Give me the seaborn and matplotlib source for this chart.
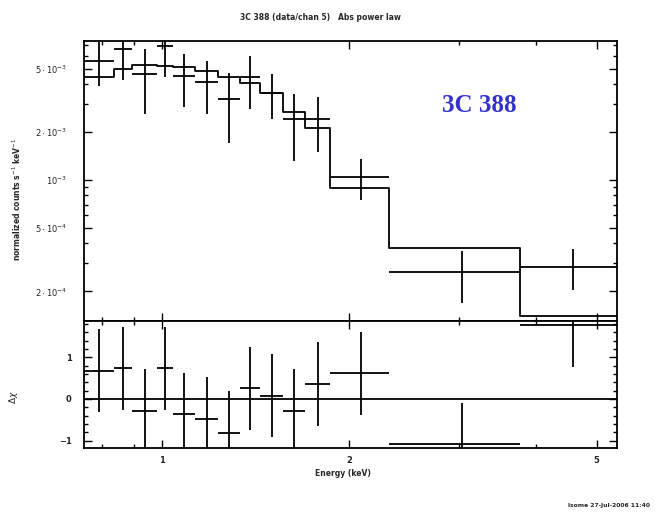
import numpy as np
import pandas as pd
import matplotlib
matplotlib.use("Agg")
import matplotlib.pyplot as plt
import seaborn as sns
from matplotlib.ticker import FixedLocator, FixedFormatter, MultipleLocator, NullFormatter

# Spectral channel bins (keV)
e_lo = [0.749, 0.837, 0.895, 0.983, 1.040, 1.130, 1.230, 1.335, 1.437, 1.563, 1.698, 1.863, 2.313, 3.764]
e_hi = [0.837, 0.895, 0.983, 1.040, 1.130, 1.230, 1.335, 1.437, 1.563, 1.698, 1.863, 2.313, 3.764, 5.39]

# Normalized counts s^-1 keV^-1 with 1-sigma errors
rate = [5.60e-3, 6.63e-3, 4.62e-3, 6.95e-3, 4.51e-3, 4.10e-3, 3.21e-3, 4.40e-3,
        3.50e-3, 2.40e-3, 2.40e-3, 1.049e-3, 2.64e-4, 2.86e-4]
rate_err = [1.72e-3, 2.39e-3, 2.03e-3, 2.51e-3, 1.63e-3, 1.51e-3, 1.50e-3, 1.63e-3,
            1.10e-3, 1.08e-3, 0.90e-3, 0.30e-3, 0.945e-4, 0.83e-4]

# Folded absorbed power-law model per channel
model = [4.40e-3, 4.94e-3, 5.23e-3, 5.18e-3, 5.09e-3, 4.82e-3, 4.40e-3, 4.04e-3,
         3.50e-3, 2.68e-3, 2.13e-3, 0.887e-3, 3.73e-4, 1.41e-4]

# Residuals in units of sigma
delchi = [0.68, 0.74, -0.28, 0.74, -0.37, -0.48, -0.81, 0.26, 0.08, -0.28, 0.36, 0.62, -1.09, 1.78]
delchi_err = [1.0] * len(delchi)

y_ticks = [2e-4, 5e-4, 1e-3, 2e-3, 5e-3]
y_ticklabels = [r"$2\cdot10^{-4}$", r"$5\cdot10^{-4}$", r"$10^{-3}$", r"$2\cdot10^{-3}$", r"$5\cdot10^{-3}$"]
x_ticks = [1, 2, 5]
x_ticklabels = ["1", "2", "5"]

sns.set_theme(style="ticks")
plt.rcParams["font.family"] = ["DejaVu Sans"]
plt.rcParams["mathtext.fontset"] = "dejavusans"

df = pd.DataFrame({"lo": e_lo, "hi": e_hi, "rate": rate, "err": rate_err,
                   "model": model, "delchi": delchi, "derr": delchi_err})
df["mid"] = (df["lo"] + df["hi"]) / 2

step = pd.DataFrame({"e": list(df["lo"]) + [df["hi"].iloc[-1]],
                     "m": list(df["model"]) + [df["model"].iloc[-1]]})

fig = plt.figure(figsize=(6.55, 5.15), dpi=100)
fig.patch.set_facecolor("white")
L, W = 84 / 655, (617 - 84) / 655
ax1 = fig.add_axes([L, 1 - 321 / 515, W, (321 - 41) / 515])
ax2 = fig.add_axes([L, 1 - 448 / 515, W, (448 - 321) / 515], sharex=ax1)

lw = 1.3
xerr = [df["mid"] - df["lo"], df["hi"] - df["mid"]]

# upper panel: data crosses and model steps
ax1.errorbar(df["mid"], df["rate"], xerr=xerr, yerr=df["err"], fmt="none",
             ecolor="black", elinewidth=lw, capsize=0)
sns.lineplot(data=step, x="e", y="m", drawstyle="steps-post", color="black",
             lw=lw, estimator=None, sort=False, ax=ax1)

# lower panel: residuals
ax2.errorbar(df["mid"], df["delchi"], xerr=xerr, yerr=df["derr"], fmt="none",
             ecolor="black", elinewidth=lw, capsize=0)
ax2.axhline(0, color="black", lw=lw)

for ax in (ax1, ax2):
    ax.set_xscale("log")
    for s in ax.spines.values():
        s.set_linewidth(1.3)
        s.set_color("black")
    ax.tick_params(which="both", direction="in", top=True, right=True,
                   color="black", width=1.0, labelsize=6)
    ax.tick_params(which="major", length=6)
    ax.tick_params(which="minor", length=3)
    ax.set_facecolor("white")

ax1.set_xlim(0.749, 5.39)
ax1.set_yscale("log")
ax1.set_ylim(1.306e-4, 7.44e-3)
ax1.yaxis.set_major_locator(FixedLocator(y_ticks))
ax1.yaxis.set_major_formatter(FixedFormatter(y_ticklabels))
ax1.yaxis.set_minor_locator(FixedLocator([3e-4, 4e-4, 6e-4, 7e-4, 8e-4, 9e-4,
                                          3e-3, 4e-3, 6e-3, 7e-3]))
ax1.yaxis.set_minor_formatter(NullFormatter())
ax1.tick_params(axis="y", which="major", pad=12)
ax1.tick_params(axis="x", labelbottom=False)
ax1.set_xlabel("")
ax1.set_ylabel("")

ax2.xaxis.set_major_locator(FixedLocator(x_ticks))
ax2.xaxis.set_major_formatter(FixedFormatter(x_ticklabels))
ax2.xaxis.set_minor_locator(FixedLocator([0.8, 0.9, 3, 4]))
ax2.xaxis.set_minor_formatter(NullFormatter())
ax2.set_ylim(-1.178, 1.875)
ax2.yaxis.set_major_locator(FixedLocator([-1, 0, 1]))
ax2.yaxis.set_minor_locator(MultipleLocator(0.2))
ax2.tick_params(axis="y", which="major", pad=9)
ax2.tick_params(axis="x", which="major", pad=6)

for lab in ax1.get_yticklabels() + ax2.get_yticklabels() + ax2.get_xticklabels():
    lab.set_fontweight("bold")

fig.text(320 / 655, 1 - 17 / 515, "3C 388 (data/chan 5)   Abs power law",
         ha="center", va="center", fontsize=5.5, fontweight="bold")
fig.text(17 / 655, 1 - 200 / 515, r"normalized counts s$^{-1}$ keV$^{-1}$",
         rotation=90, ha="center", va="center", fontsize=5.5, fontweight="bold")
fig.text(13 / 655, 1 - 397 / 515, r"$\Delta\chi$", rotation=90,
         ha="center", va="center", fontsize=6.5, fontweight="bold")
fig.text(343 / 655, 1 - 474 / 515, "Energy (keV)", ha="center", va="center",
         fontsize=5.5, fontweight="bold")
fig.text(650 / 655, 1 - 505 / 515, "lsome 27-Jul-2006 11:40", ha="right",
         va="center", fontsize=4.3, fontweight="bold")
fig.text(442 / 655, 1 - 111.7 / 515, "3C 388", ha="left", va="baseline",
         fontsize=18, fontweight="bold", family=["Liberation Serif", "DejaVu Serif"],
         color="#3333cc")

fig.savefig("out.png", dpi=100, facecolor="white")
